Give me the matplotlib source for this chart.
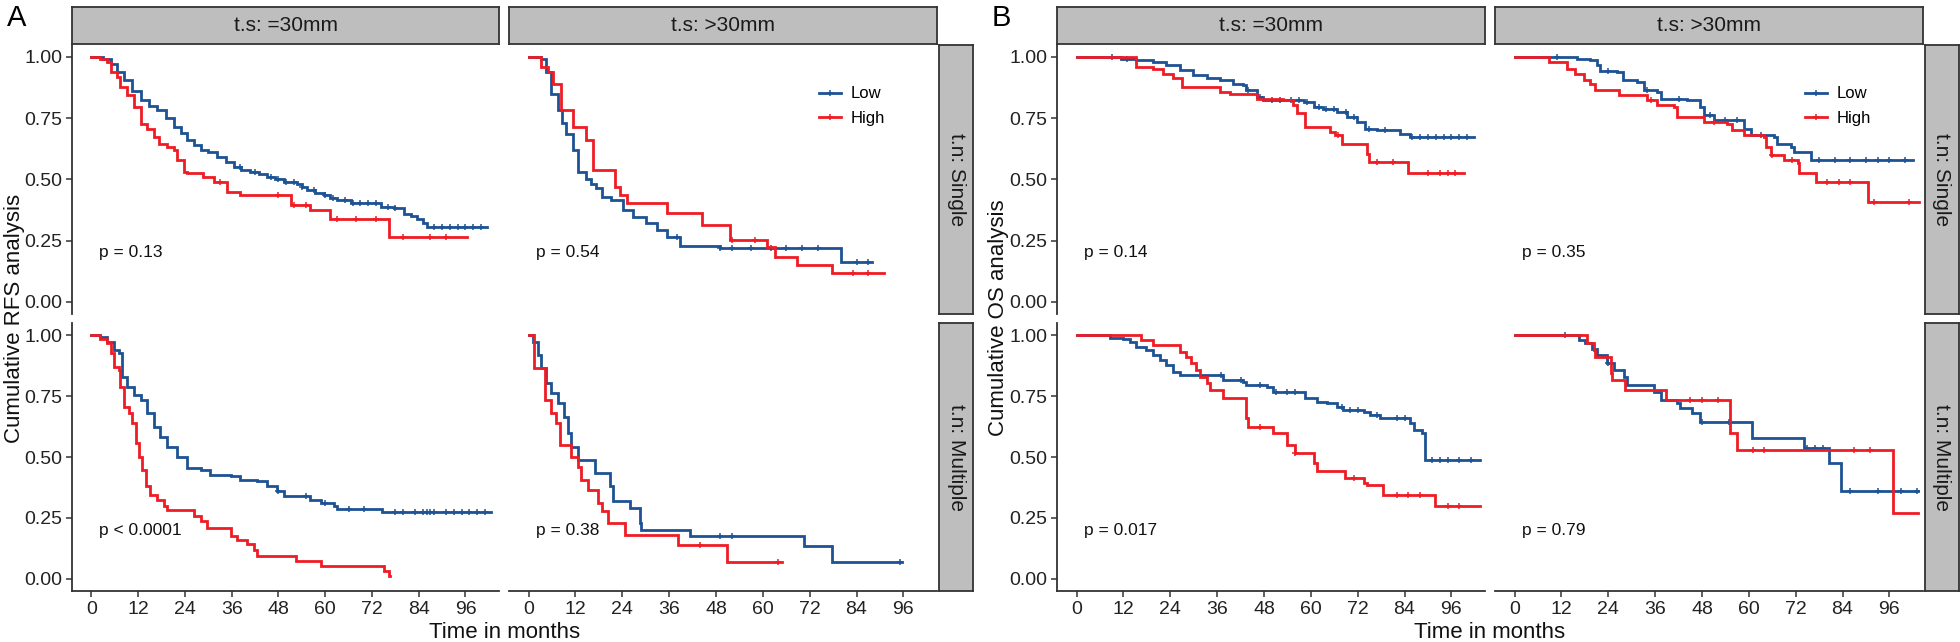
import matplotlib
matplotlib.use("Agg")
import matplotlib.pyplot as plt
from matplotlib.lines import Line2D
import numpy as np

plt.rcParams['font.family'] = ['Liberation Sans', 'DejaVu Sans']

month_ticks = [0, 12, 24, 36, 48, 60, 72, 84, 96]
surv_ticks = [0.0, 0.25, 0.5, 0.75, 1.0]
col_labels = ["t.s: =30mm", "t.s: >30mm"]
row_labels = ["t.n: Single", "t.n: Multiple"]
group_labels = ["Low", "High"]
group_colors = ["#1D5294", "#EE1C25"]

# (time in months, survival from that time on) - read off the steps
# ---- A: RFS ----
rfs_le30_single_low = [(0, 1), (3, 0.99), (4.9, 0.973), (6.6, 0.94), (8.3, 0.905), (10.5, 0.86), (12.6, 0.823),
                       (14.8, 0.80), (16.9, 0.782), (19, 0.75), (21.1, 0.714), (23, 0.69), (24.6, 0.66), (26.3, 0.64),
                       (28, 0.619), (30, 0.61), (32.3, 0.592), (34.5, 0.57), (36.5, 0.551), (38.5, 0.54), (40.8, 0.531),
                       (43, 0.52), (45.1, 0.51), (47, 0.50), (49.4, 0.49), (52.8, 0.483), (54, 0.47), (55.3, 0.456),
                       (57.5, 0.445), (59.6, 0.435), (61.3, 0.425), (63, 0.415), (66.5, 0.404), (74.2, 0.388),
                       (77.6, 0.385), (80.2, 0.36), (82, 0.35), (83.6, 0.34), (85, 0.32), (86.1, 0.306), (101.5, 0.306)]
rfs_le30_single_high = [(0, 1), (2.3, 0.993), (4, 0.98), (4.9, 0.939), (6.6, 0.918), (7.4, 0.878), (9.2, 0.844),
                        (10.9, 0.796), (12.6, 0.728), (14.3, 0.707), (16, 0.673), (17.3, 0.646), (19.4, 0.633),
                        (21.1, 0.619), (22, 0.578), (23.7, 0.531), (24.6, 0.524), (28.5, 0.51), (31.4, 0.49),
                        (34.8, 0.449), (38.2, 0.435), (51.1, 0.395), (56.2, 0.374), (61.3, 0.34), (76.3, 0.265),
                        (96.4, 0.265)]
rfs_gt30_single_low = [(0, 1), (3.3, 0.993), (4.5, 0.939), (5.8, 0.85), (7.5, 0.782), (8.6, 0.73), (9.7, 0.687),
                       (11.4, 0.619), (12.7, 0.531), (14.8, 0.503), (16, 0.48), (17.4, 0.463), (18.7, 0.429),
                       (21, 0.415), (24.2, 0.374), (26.8, 0.347), (30.2, 0.32), (32.8, 0.293), (35.4, 0.265),
                       (38.8, 0.227), (49, 0.218), (79.9, 0.163), (88, 0.163)]
rfs_gt30_single_high = [(0, 1), (3.3, 0.959), (5, 0.939), (6.2, 0.891), (8.4, 0.782), (11.4, 0.714), (14.8, 0.66),
                        (16.5, 0.537), (22.1, 0.469), (23.4, 0.435), (25.1, 0.404), (35.4, 0.361), (44.3, 0.313),
                        (51.6, 0.252), (61, 0.224), (63.2, 0.184), (68.8, 0.15), (77.7, 0.116), (91, 0.116)]
rfs_le30_multi_low = [(0, 1), (2.3, 0.993), (4, 0.973), (5.7, 0.939), (7, 0.925), (7.9, 0.829), (9.2, 0.789),
                      (10.9, 0.754), (12.6, 0.734), (14.3, 0.679), (16, 0.625), (17.7, 0.584), (19.4, 0.543),
                      (22, 0.502), (24.6, 0.454), (28, 0.447), (30.5, 0.427), (35.7, 0.42), (38.2, 0.407),
                      (42.5, 0.40), (45.1, 0.379), (47.6, 0.359), (49.4, 0.338), (56.2, 0.325), (58.8, 0.311),
                      (62.2, 0.297), (63, 0.286), (74.6, 0.274), (102.5, 0.274)]
rfs_le30_multi_high = [(0, 1), (2.3, 0.986), (4, 0.966), (4.9, 0.925), (5.7, 0.87), (7, 0.857), (7.4, 0.789),
                       (8.3, 0.707), (9.6, 0.679), (10.4, 0.638), (11.3, 0.557), (12.1, 0.502), (13, 0.447),
                       (13.9, 0.379), (15.1, 0.345), (16.9, 0.325), (18.6, 0.297), (19.4, 0.284), (26.3, 0.256),
                       (28, 0.236), (29.7, 0.209), (35.7, 0.175), (37.4, 0.161), (39.9, 0.141), (41.7, 0.12),
                       (42.5, 0.093), (52.4, 0.072), (58.8, 0.052), (75, 0.031), (76.3, 0.011), (76.6, 0.011)]
rfs_gt30_multi_low = [(0, 1), (1.1, 0.973), (2.4, 0.918), (3.3, 0.864), (4.5, 0.802), (5.8, 0.761), (7.5, 0.72),
                      (9.2, 0.666), (10.1, 0.598), (11, 0.543), (12.7, 0.488), (17, 0.434), (20.8, 0.379),
                      (21.7, 0.318), (25.9, 0.291), (28.5, 0.229), (28.9, 0.202), (41.4, 0.175), (70.5, 0.134),
                      (77.7, 0.07), (95.7, 0.07)]
rfs_gt30_multi_high = [(0, 1), (1.4, 0.864), (4.1, 0.734), (5.8, 0.679), (7.1, 0.638), (8, 0.55), (11, 0.502),
                       (12.7, 0.461), (13.5, 0.407), (15.2, 0.366), (17.8, 0.311), (18.7, 0.277), (20.4, 0.229),
                       (24.7, 0.181), (38.4, 0.138), (50.8, 0.07), (64.9, 0.07)]

rfs_le30_single_low_cens = [38, 42, 46, 48, 50, 52, 54, 57, 60, 62, 65, 67, 69, 71, 73, 76, 78, 88, 90, 92, 94, 96, 98, 100]
rfs_le30_single_high_cens = [33, 48, 52, 55, 63, 68, 73, 80, 87, 91]
rfs_gt30_single_low_cens = [38, 49, 52, 57, 62, 66, 70, 74, 84, 87]
rfs_gt30_single_high_cens = [52, 58, 83, 87]
rfs_le30_multi_low_cens = [48, 55, 60, 66, 70, 78, 80, 83, 85, 86, 87, 88, 91, 93, 95, 97, 99, 101]
rfs_le30_multi_high_cens = []
rfs_gt30_multi_low_cens = [49, 52, 95]
rfs_gt30_multi_high_cens = [44, 64]

# ---- B: OS ----
os_le30_single_low = [(0, 1), (11.5, 0.99), (15.3, 0.986), (19.6, 0.98), (23, 0.966), (26.4, 0.946), (29.9, 0.925),
                      (33.3, 0.912), (36.7, 0.905), (40.1, 0.891), (42.7, 0.884), (43.5, 0.864), (46.1, 0.837),
                      (47.8, 0.826), (58.2, 0.816), (60.7, 0.796), (63.2, 0.789), (66.6, 0.776), (69.2, 0.755),
                      (71.8, 0.735), (73.9, 0.707), (76.9, 0.701), (82.9, 0.687), (85.5, 0.673), (101.7, 0.673)]
os_le30_single_high = [(0, 1), (15.3, 0.959), (19.6, 0.952), (22.2, 0.932), (24.8, 0.912), (26.9, 0.878),
                       (36.7, 0.857), (39.3, 0.85), (46.1, 0.83), (53, 0.823), (55.5, 0.803), (56.4, 0.769),
                       (58.5, 0.714), (64.9, 0.694), (66.2, 0.68), (67.9, 0.646), (74.3, 0.605), (74.8, 0.571),
                       (85, 0.524), (99.1, 0.524)]
os_gt30_single_low = [(0, 1), (16, 0.99), (19.4, 0.986), (21.1, 0.966), (22, 0.943), (26.3, 0.939), (27.9, 0.905),
                      (31.4, 0.898), (33.1, 0.864), (36.5, 0.857), (37.4, 0.83), (44.2, 0.823), (47.6, 0.796),
                      (48.5, 0.762), (51.1, 0.741), (58.8, 0.707), (60.5, 0.68), (66.5, 0.673), (67.3, 0.646),
                      (70.7, 0.633), (71.6, 0.612), (75.9, 0.581), (102, 0.581)]
os_gt30_single_high = [(0, 1), (8.7, 0.98), (13.4, 0.952), (15.6, 0.932), (17.7, 0.905), (19.4, 0.891),
                       (20.7, 0.864), (26.7, 0.844), (33.9, 0.823), (36.5, 0.803), (40.8, 0.796), (41.7, 0.755),
                       (48.5, 0.735), (54.5, 0.728), (55.8, 0.701), (58.8, 0.68), (63.9, 0.673), (64.3, 0.633),
                       (65.6, 0.599), (69, 0.578), (72.5, 0.565), (72.9, 0.524), (77.2, 0.49), (90.4, 0.408),
                       (103.7, 0.408)]
os_le30_multi_low = [(0, 1), (8.5, 0.99), (11.9, 0.986), (13.6, 0.973), (15.3, 0.952), (17.9, 0.939), (19.6, 0.918),
                     (21.3, 0.898), (23, 0.877), (24.7, 0.85), (26.4, 0.836), (37.6, 0.816), (42.7, 0.809),
                     (43.5, 0.795), (48.7, 0.789), (50.3, 0.768), (58.5, 0.741), (61.5, 0.727), (64.1, 0.72),
                     (66.6, 0.707), (68.3, 0.693), (73.5, 0.686), (75.2, 0.673), (77.8, 0.659), (85.5, 0.638),
                     (86.3, 0.611), (88.5, 0.598), (89.3, 0.488), (103.4, 0.488)]
os_le30_multi_high = [(0, 1), (16.6, 0.98), (19.6, 0.959), (26.4, 0.932), (28.1, 0.911), (29.4, 0.884),
                      (30.7, 0.857), (31.6, 0.829), (33.3, 0.802), (34.1, 0.775), (37.6, 0.741), (43.5, 0.659),
                      (43.9, 0.625), (50.3, 0.598), (53.8, 0.55), (55.9, 0.516), (60.7, 0.475), (61.5, 0.441),
                      (68.8, 0.413), (73.5, 0.393), (74.3, 0.386), (78.6, 0.345), (91.9, 0.297), (103.4, 0.297)]
os_gt30_multi_low = [(0, 1), (16.4, 0.98), (18.1, 0.966), (19.8, 0.945), (21.1, 0.918), (23.7, 0.884),
                     (25.4, 0.857), (28, 0.829), (28.8, 0.795), (35.7, 0.768), (37.4, 0.734), (41.7, 0.72),
                     (42.5, 0.70), (45.5, 0.679), (47.6, 0.645), (60.9, 0.577), (74.2, 0.536), (80.6, 0.475),
                     (83.6, 0.359), (103.3, 0.359)]
os_gt30_multi_high = [(0, 1), (18.6, 0.966), (20.3, 0.939), (20.7, 0.911), (24.6, 0.843), (25, 0.816),
                      (28.4, 0.775), (38.7, 0.734), (55.3, 0.598), (56.9, 0.529), (96.8, 0.27), (103.3, 0.27)]

os_le30_single_low_cens = [9, 13, 44, 47, 50, 52, 55, 57, 59, 62, 64, 66, 69, 71, 75, 79, 86, 88, 90, 92, 94, 96, 98, 100]
os_le30_single_high_cens = [67, 77, 81, 90, 93, 95, 97]
os_gt30_single_low_cens = [11, 24, 34, 42, 50, 54, 57, 63, 78, 82, 86, 90, 93, 96, 100]
os_gt30_single_high_cens = [35, 51, 66, 71, 80, 83, 86, 92, 101]
os_le30_multi_low_cens = [37, 42, 47, 51, 54, 56, 68, 70, 72, 77, 82, 84, 91, 93, 95, 98, 101]
os_le30_multi_high_cens = [47, 56, 71, 82, 85, 88, 95, 98]
os_gt30_multi_low_cens = [13, 24, 48, 55, 75, 77, 79, 86, 93, 99, 103]
os_gt30_multi_high_cens = [45, 48, 52, 61, 64, 87, 91]

rfs_pvals = ["p = 0.13", "p = 0.54", "p < 0.0001", "p = 0.38"]
os_pvals = ["p = 0.14", "p = 0.35", "p = 0.017", "p = 0.79"]

rfs_curves = [
    [(rfs_le30_single_low, rfs_le30_single_low_cens), (rfs_le30_single_high, rfs_le30_single_high_cens)],
    [(rfs_gt30_single_low, rfs_gt30_single_low_cens), (rfs_gt30_single_high, rfs_gt30_single_high_cens)],
    [(rfs_le30_multi_low, rfs_le30_multi_low_cens), (rfs_le30_multi_high, rfs_le30_multi_high_cens)],
    [(rfs_gt30_multi_low, rfs_gt30_multi_low_cens), (rfs_gt30_multi_high, rfs_gt30_multi_high_cens)],
]
os_curves = [
    [(os_le30_single_low, os_le30_single_low_cens), (os_le30_single_high, os_le30_single_high_cens)],
    [(os_gt30_single_low, os_gt30_single_low_cens), (os_gt30_single_high, os_gt30_single_high_cens)],
    [(os_le30_multi_low, os_le30_multi_low_cens), (os_le30_multi_high, os_le30_multi_high_cens)],
    [(os_gt30_multi_low, os_gt30_multi_low_cens), (os_gt30_multi_high, os_gt30_multi_high_cens)],
]

W, H = 1960, 642
fig = plt.figure(figsize=(W / 100, H / 100), dpi=100)


def box(x0, y0, x1, y1):
    return [x0 / W, 1 - y1 / H, (x1 - x0) / W, (y1 - y0) / H]


def km(ax, pts, cens, color):
    t, s = np.array(pts, dtype=float).T
    ax.step(t, s, where='post', color=color, lw=2.0, solid_joinstyle='miter')
    if len(cens):
        ct = np.array(cens, dtype=float)
        idx = np.searchsorted(t, ct, side='right') - 1
        ax.plot(ct, s[idx], ls='none', marker='+', ms=5, mew=1.1, color=color)


def strip(rect, text, rot=0):
    sa = fig.add_axes(rect)
    sa.set_facecolor('#BEBEBE')
    sa.set_xticks([])
    sa.set_yticks([])
    for sp in sa.spines.values():
        sp.set_color('#333333')
        sp.set_linewidth(1.3)
    sa.text(0.5, 0.5, text, ha='center', va='center', rotation=rot, fontsize=15, color='#1a1a1a',
            transform=sa.transAxes)


def block(curves, pvals, cols_x, strip_x, letter, letter_x, ylabel, ylabel_x):
    rows_y = [(44.7, 314), (323, 591)]
    for r in range(2):
        for c in range(2):
            x0, x1 = cols_x[c]
            y0, y1 = rows_y[r]
            ax = fig.add_axes(box(x0, y0, x1, y1))
            for (pts, cens), color in zip(curves[r * 2 + c], group_colors):
                km(ax, pts, cens, color)
            ax.set_xlim(-5, 104.6)
            ax.set_ylim(-0.05, 1.05)
            ax.text(2, 0.2, pvals[r * 2 + c], fontsize=12.5, ha='left', va='center', color='#111111')
            for sp in ['top', 'right']:
                ax.spines[sp].set_visible(False)
            ax.spines['left'].set_visible(c == 0)
            ax.spines['bottom'].set_visible(r == 1)
            for sp in ['left', 'bottom']:
                ax.spines[sp].set_color('#333333')
                ax.spines[sp].set_linewidth(1.3)
            ax.tick_params(length=4, width=1.1, color='#333333', labelsize=14, labelcolor='#222222', pad=3)
            if c == 0:
                ax.set_yticks(surv_ticks)
                ax.set_yticklabels([f"{v:.2f}" for v in surv_ticks])
            else:
                ax.set_yticks([])
            if r == 1:
                ax.set_xticks(month_ticks)
            else:
                ax.set_xticks([])
            if r == 0 and c == 1:
                handles = [Line2D([], [], color=col, lw=2.0, marker='+', ms=5, mew=1.1) for col in group_colors]
                ax.legend(handles, group_labels, loc='upper left', bbox_to_anchor=(0.725, 0.845),
                          frameon=False, fontsize=12, handlelength=1.3, handletextpad=0.6,
                          labelspacing=0.55, borderpad=0, borderaxespad=0)
            if r == 0:
                strip(box(x0, 7, x1, 44), col_labels[c])
        strip(box(strip_x[0], rows_y[r][0], strip_x[1], rows_y[r][1]), row_labels[r], rot=-90)
    fig.text(letter_x / W, 1 - 18 / H, letter, fontsize=21, ha='left', va='center')
    fig.text(ylabel_x / W, 1 - 318 / H, ylabel, fontsize=16, rotation=90, ha='center', va='center',
             color='#111111')
    xc = (cols_x[0][0] + cols_x[1][1]) / 2
    fig.text(xc / W, 1 - 632 / H, "Time in months", fontsize=16, ha='center', va='center', color='#111111')


block(rfs_curves, rfs_pvals, [(72, 499), (509, 937)], (939, 973), "A", 7, "Cumulative RFS analysis", 15)
block(os_curves, os_pvals, [(1057, 1485), (1495, 1923)], (1925, 1959), "B", 992, "Cumulative OS analysis", 998)

fig.savefig("out.png", dpi=100)
